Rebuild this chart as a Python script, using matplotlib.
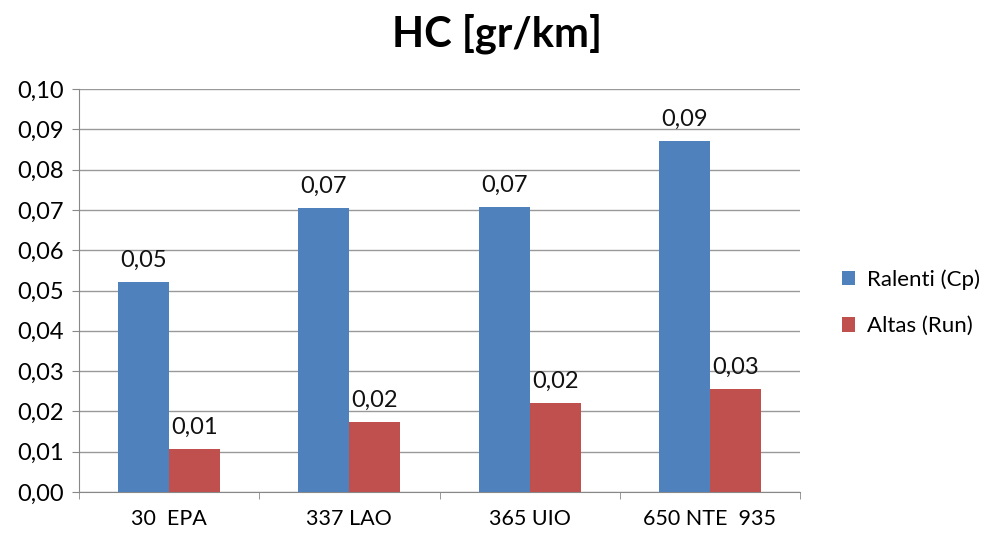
import matplotlib
matplotlib.use("Agg")
import matplotlib.pyplot as plt
import numpy as np

categories = ["30  EPA", "337 LAO", "365 UIO", "650 NTE  935"]
ralenti = [0.0521, 0.0705, 0.0707, 0.0871]
altas = [0.0107, 0.0174, 0.0221, 0.0256]
series_names = ["Ralenti (Cp)", "Altas (Run)"]
yticks = [0.00, 0.01, 0.02, 0.03, 0.04, 0.05, 0.06, 0.07, 0.08, 0.09, 0.10]

plt.rcParams['font.family'] = ['Lato', 'DejaVu Sans']

fig = plt.figure(figsize=(9.94, 5.38), dpi=100)
ax = fig.add_axes([79/994, 46/538, 721/994, 403/538])

x = np.arange(len(categories))
w = 0.283
b1 = ax.bar(x - w/2, ralenti, w, color="#4F81BD", label=series_names[0], zorder=3)
b2 = ax.bar(x + w/2, altas, w, color="#C0504D", label=series_names[1], zorder=3)

for bars, vals in ((b1, ralenti), (b2, altas)):
    for r, v in zip(bars, vals):
        ax.annotate(f"{v:.2f}".replace(".", ","), (r.get_x() + r.get_width()/2, v),
                    xytext=(0, 8), textcoords="offset points", ha="center", va="bottom",
                    fontsize=17, color="#111111")

ax.set_xlim(-0.5, len(categories) - 0.5)
ax.set_ylim(0, 0.10)
ax.set_yticks(yticks)
ax.set_yticklabels([f"{t:.2f}".replace(".", ",") for t in yticks], fontsize=17)
ax.set_xticks(x)
ax.set_xticklabels(categories, fontsize=15.5)
ax.tick_params(axis="x", length=0, pad=12)
ax.set_xticks(np.arange(len(categories) + 1) - 0.5, minor=True)
ax.tick_params(axis="x", which="minor", length=5, color="#888888")
ax.tick_params(axis="y", length=5, color="#888888", pad=6)
ax.yaxis.grid(True, color="#999999", linewidth=1, zorder=0)
for s in ("top", "right"):
    ax.spines[s].set_visible(False)
for s in ("left", "bottom"):
    ax.spines[s].set_color("#888888")

fig.suptitle("HC [gr/km]", fontsize=30, fontweight="bold", y=0.975)

ax.legend(loc="center left", bbox_to_anchor=(1.03, 0.47), frameon=False,
          fontsize=16, handlelength=0.62, handleheight=0.62, labelspacing=1.2,
          handletextpad=0.5)

fig.savefig("out.png", dpi=100)
